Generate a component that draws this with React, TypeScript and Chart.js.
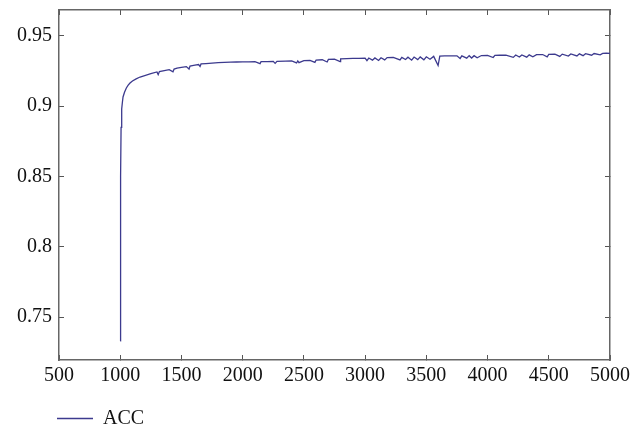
import React, { useEffect, useRef } from "react";
import { Chart, registerables } from "chart.js";

Chart.register(...registerables);

const seriesLabel = "ACC";

const steps: number[] = [
  1000, 1002, 1004, 1007, 1012, 1018, 1023, 1035, 1050, 1065,
  1080, 1100, 1130, 1162, 1200, 1250, 1300, 1310, 1320, 1360,
  1400, 1431, 1440, 1464, 1500, 1540, 1562, 1570, 1610, 1640,
  1652, 1660, 1700, 1750, 1800, 1850, 1900, 1950, 2000, 2050,
  2100, 2142, 2150, 2200, 2250, 2265, 2280, 2350, 2400, 2440,
  2450, 2460, 2500, 2550, 2590, 2600, 2650, 2690, 2700, 2750,
  2796, 2800, 2850, 2900, 2950, 3000, 3015, 3030, 3060, 3080,
  3110, 3130, 3160, 3180, 3230, 3285, 3300, 3330, 3350, 3380,
  3400, 3430, 3450, 3480, 3500, 3530, 3560, 3596, 3610, 3650,
  3700, 3750, 3776, 3790, 3830, 3850, 3870, 3890, 3915, 3950,
  4000, 4046, 4060, 4100, 4150, 4210, 4230, 4260, 4280, 4320,
  4340, 4370, 4400, 4450, 4487, 4500, 4550, 4590, 4610, 4660,
  4680, 4730, 4750, 4780, 4800, 4850, 4870, 4920, 4940, 4970,
  5000,
];

const acc: number[] = [
  0.733, 0.79, 0.85, 0.885, 0.898, 0.903, 0.9066, 0.91, 0.913, 0.915,
  0.9165, 0.918, 0.9195, 0.9208, 0.9218, 0.9232, 0.9244, 0.9225, 0.9247, 0.9254,
  0.9261, 0.9245, 0.9265, 0.9272, 0.9277, 0.9282, 0.9265, 0.9286, 0.9292, 0.9297,
  0.9283, 0.9301, 0.9304, 0.9307, 0.931, 0.9312, 0.9314, 0.9315, 0.9316, 0.9316,
  0.9317, 0.9303, 0.9317, 0.9318, 0.9319, 0.9305, 0.932, 0.9321, 0.9322, 0.9308,
  0.9323, 0.931, 0.9325, 0.9327, 0.9312, 0.9329, 0.9331, 0.9315, 0.9333, 0.9335,
  0.9318, 0.9337, 0.9339, 0.934, 0.9341, 0.9342, 0.9325, 0.9343, 0.9328, 0.9344,
  0.9326, 0.9345, 0.933, 0.9346, 0.9347, 0.933, 0.9348, 0.9333, 0.9349, 0.9328,
  0.935, 0.9332, 0.9351, 0.933, 0.9352, 0.9335, 0.9355, 0.929, 0.9357, 0.9358,
  0.9358, 0.9359, 0.934, 0.9359, 0.9342, 0.936, 0.9343, 0.936, 0.9345, 0.9361,
  0.9362, 0.9347, 0.9362, 0.9363, 0.9364, 0.9348, 0.9365, 0.935, 0.9365, 0.9349,
  0.9366, 0.9352, 0.9367, 0.9368, 0.9352, 0.9369, 0.937, 0.9355, 0.9371, 0.9357,
  0.9372, 0.9358, 0.9373, 0.936, 0.9374, 0.9363, 0.9375, 0.9366, 0.9376, 0.9378,
  0.9377,
];

const xTicks: number[] = [500, 1000, 1500, 2000, 2500, 3000, 3500, 4000, 4500, 5000];
const yTicks: number[] = [0.75, 0.8, 0.85, 0.9, 0.95];

const FONT = "'Liberation Serif', 'DejaVu Serif', serif";

const legendNudge = {
  id: "legendNudge",
  afterLayout(chart: any) {
    const l = chart.legend;
    if (!l) return;
    const dx = 55 - l.left;
    l.left += dx;
    l.right += dx;
    const dy = 406.5 - l.top;
    l.top += dy;
    l.bottom += dy;
  },
};

export default function App() {
  const ref = useRef<HTMLCanvasElement | null>(null);

  useEffect(() => {
    if (!ref.current) return;
    const frame = { color: "#666", width: 1.5 };
    const tickGrid = {
      drawOnChartArea: false,
      drawTicks: true,
      tickLength: -5,
      color: "#555",
      tickWidth: 1,
    };
    const setX = (s: any) => {
      s.ticks = xTicks.map((v) => ({ value: v }));
    };
    const setY = (s: any) => {
      s.ticks = yTicks.map((v) => ({ value: v }));
    };
    const chart = new Chart(ref.current, {
      type: "line",
      data: {
        datasets: [
          {
            label: seriesLabel,
            data: steps.map((x, i) => ({ x, y: acc[i] })),
            borderColor: "#3c3a8e",
            backgroundColor: "#3c3a8e",
            borderWidth: 1.3,
            pointRadius: 0,
            tension: 0,
            fill: false,
          },
        ],
      },
      options: {
        animation: false,
        responsive: false,
        events: [],
        layout: { padding: { left: 0, right: 33, top: 10, bottom: 0 } },
        plugins: {
          tooltip: { enabled: false },
          legend: {
            position: "bottom",
            align: "start",
            labels: {
              usePointStyle: true,
              pointStyle: "line",
              pointStyleWidth: 36,
              padding: 2,
              color: "#111",
              font: { family: FONT, size: 20, lineHeight: 1 },
            },
          },
        },
        scales: {
          x: {
            type: "linear",
            position: "bottom",
            min: 500,
            max: 5000,
            afterBuildTicks: setX,
            afterFit: (s: any) => {
              s.height = 38;
              s.paddingLeft = 0;
              s.paddingRight = 0;
            },
            border: frame,
            grid: tickGrid,
            ticks: {
              padding: 9,
              maxRotation: 0,
              autoSkip: false,
              color: "#111",
              font: { family: FONT, size: 20 },
              callback: (v: any) => String(v),
            },
          },
          x2: {
            type: "linear",
            position: "top",
            min: 500,
            max: 5000,
            afterBuildTicks: setX,
            afterFit: (s: any) => {
              s.height = 0;
              s.paddingLeft = 0;
              s.paddingRight = 0;
            },
            border: frame,
            grid: tickGrid,
            ticks: { display: false },
          },
          y: {
            type: "linear",
            position: "left",
            min: 0.7194,
            max: 0.9685,
            afterBuildTicks: setY,
            afterFit: (s: any) => {
              s.width = 59;
              s.paddingTop = 0;
              s.paddingBottom = 0;
            },
            border: frame,
            grid: tickGrid,
            ticks: {
              padding: 12,
              color: "#111",
              font: { family: FONT, size: 20 },
              callback: (v: any) => String(Math.round(v * 100) / 100),
            },
          },
          y2: {
            type: "linear",
            position: "right",
            min: 0.7194,
            max: 0.9685,
            afterBuildTicks: setY,
            afterFit: (s: any) => {
              s.width = 0;
              s.paddingTop = 0;
              s.paddingBottom = 0;
            },
            border: frame,
            grid: tickGrid,
            ticks: { display: false },
          },
        },
      },
      plugins: [legendNudge],
    } as any);
    return () => chart.destroy();
  }, []);

  return (
    <canvas
      ref={ref}
      width={643}
      height={430}
      style={{ position: "absolute", left: 0, top: 0, width: 643, height: 430, background: "#fff" }}
    />
  );
}
